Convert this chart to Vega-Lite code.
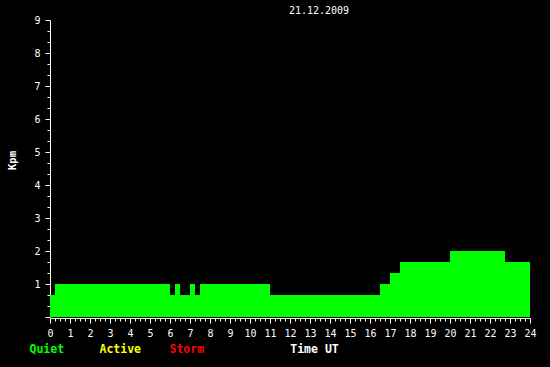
{
  "$schema": "https://vega.github.io/schema/vega-lite/v6.json",
  "width": 480,
  "height": 297,
  "autosize": {"type": "none"},
  "padding": {"left": 50, "top": 20, "right": 20, "bottom": 50},
  "background": "black",
  "title": {"text": "21.12.2009", "color": "white", "font": "DejaVu Sans Mono", "fontSize": 10, "fontWeight": "normal", "frame": "group", "anchor": "middle", "dx": 29, "dy": 13, "offset": 4, "baseline": "alphabetic"},
  "data": {"values": [
    {"start": 0, "end": 0.25, "kpm": 0.6667, "level": "Quiet"},
    {"start": 0.25, "end": 6, "kpm": 1.0, "level": "Quiet"},
    {"start": 6, "end": 6.25, "kpm": 0.6667, "level": "Quiet"},
    {"start": 6.25, "end": 6.5, "kpm": 1.0, "level": "Quiet"},
    {"start": 6.5, "end": 7, "kpm": 0.6667, "level": "Quiet"},
    {"start": 7, "end": 7.25, "kpm": 1.0, "level": "Quiet"},
    {"start": 7.25, "end": 7.5, "kpm": 0.6667, "level": "Quiet"},
    {"start": 7.5, "end": 11, "kpm": 1.0, "level": "Quiet"},
    {"start": 11, "end": 16.5, "kpm": 0.6667, "level": "Quiet"},
    {"start": 16.5, "end": 17, "kpm": 1.0, "level": "Quiet"},
    {"start": 17, "end": 17.5, "kpm": 1.3333, "level": "Quiet"},
    {"start": 17.5, "end": 20, "kpm": 1.6667, "level": "Quiet"},
    {"start": 20, "end": 22.75, "kpm": 2.0, "level": "Quiet"},
    {"start": 22.75, "end": 24, "kpm": 1.6667, "level": "Quiet"}
  ]},
  "mark": {"type": "rect"},
  "encoding": {
    "x": {"field": "start", "type": "quantitative", "scale": {"domain": [0, 24], "nice": false, "zero": false},
      "axis": {
        "values": [0,0.25,0.5,0.75,1,1.25,1.5,1.75,2,2.25,2.5,2.75,3,3.25,3.5,3.75,4,4.25,4.5,4.75,5,5.25,5.5,5.75,6,6.25,6.5,6.75,7,7.25,7.5,7.75,8,8.25,8.5,8.75,9,9.25,9.5,9.75,10,10.25,10.5,10.75,11,11.25,11.5,11.75,12,12.25,12.5,12.75,13,13.25,13.5,13.75,14,14.25,14.5,14.75,15,15.25,15.5,15.75,16,16.25,16.5,16.75,17,17.25,17.5,17.75,18,18.25,18.5,18.75,19,19.25,19.5,19.75,20,20.25,20.5,20.75,21,21.25,21.5,21.75,22,22.25,22.5,22.75,23,23.25,23.5,23.75,24],
        "tickSize": {"condition": {"test": "abs(datum.value - round(datum.value)) > 0.01", "value": 3}, "value": 5},
        "labelExpr": "abs(datum.value - round(datum.value)) < 0.01 ? format(datum.value, 'd') : ''",
        "labelOverlap": false,
        "labelFlush": false,
        "labelPadding": 5,
        "offset": 1,
        "title": "Time UT",
        "titleX": 264,
        "titleY": 31,
        "titleAlign": "center",
        "titleBaseline": "middle",
        "titleFont": "DejaVu Sans Mono",
        "titleFontWeight": "bold",
        "titleFontSize": 11.5
      }
    },
    "x2": {"field": "end"},
    "y": {"field": "kpm", "type": "quantitative", "scale": {"domain": [0, 9], "nice": false},
      "axis": {
        "values": [0,0.3333,0.6667,1,1.3333,1.6667,2,2.3333,2.6667,3,3.3333,3.6667,4,4.3333,4.6667,5,5.3333,5.6667,6,6.3333,6.6667,7,7.3333,7.6667,8,8.3333,8.6667,9],
        "tickSize": {"condition": {"test": "abs(datum.value - round(datum.value)) > 0.01", "value": 3}, "value": 5},
        "labelExpr": "abs(datum.value - round(datum.value)) < 0.01 && datum.value > 0.5 ? format(datum.value, 'd') : ''",
        "labelOverlap": false,
        "labelFlush": false,
        "labelPadding": 5,
        "title": "Kpm",
        "titleAngle": -90,
        "titleX": -38,
        "titleY": 140,
        "titleAlign": "center",
        "titleBaseline": "middle",
        "titleFont": "DejaVu Sans Mono",
        "titleFontWeight": "bold",
        "titleFontSize": 10.5
      }
    },
    "y2": {"datum": 0},
    "color": {"field": "level", "type": "nominal",
      "scale": {"domain": ["Quiet", "Active", "Storm"], "range": ["#00ff00", "#ffff00", "#ff0000"]},
      "legend": {
        "orient": "none", "legendX": -32, "legendY": 324, "direction": "horizontal", "title": null,
        "padding": 0, "symbolSize": 0, "symbolStrokeWidth": 0, "symbolOpacity": 0, "labelOffset": 0,
        "gridAlign": "all", "columnPadding": 16,
        "labelFont": "DejaVu Sans Mono", "labelFontWeight": "bold", "labelFontSize": 11.5, "labelBaseline": "middle",
        "labelColor": {"expr": "datum.value == 'Quiet' ? '#00ff00' : datum.value == 'Active' ? '#ffff00' : '#ff0000'"}
      }
    }
  },
  "config": {
    "view": {"stroke": null},
    "axis": {"grid": false, "domainColor": "white", "tickColor": "white", "labelColor": "white", "titleColor": "white", "labelFont": "DejaVu Sans Mono", "labelFontSize": 10, "domainWidth": 1, "tickWidth": 1}
  }
}
